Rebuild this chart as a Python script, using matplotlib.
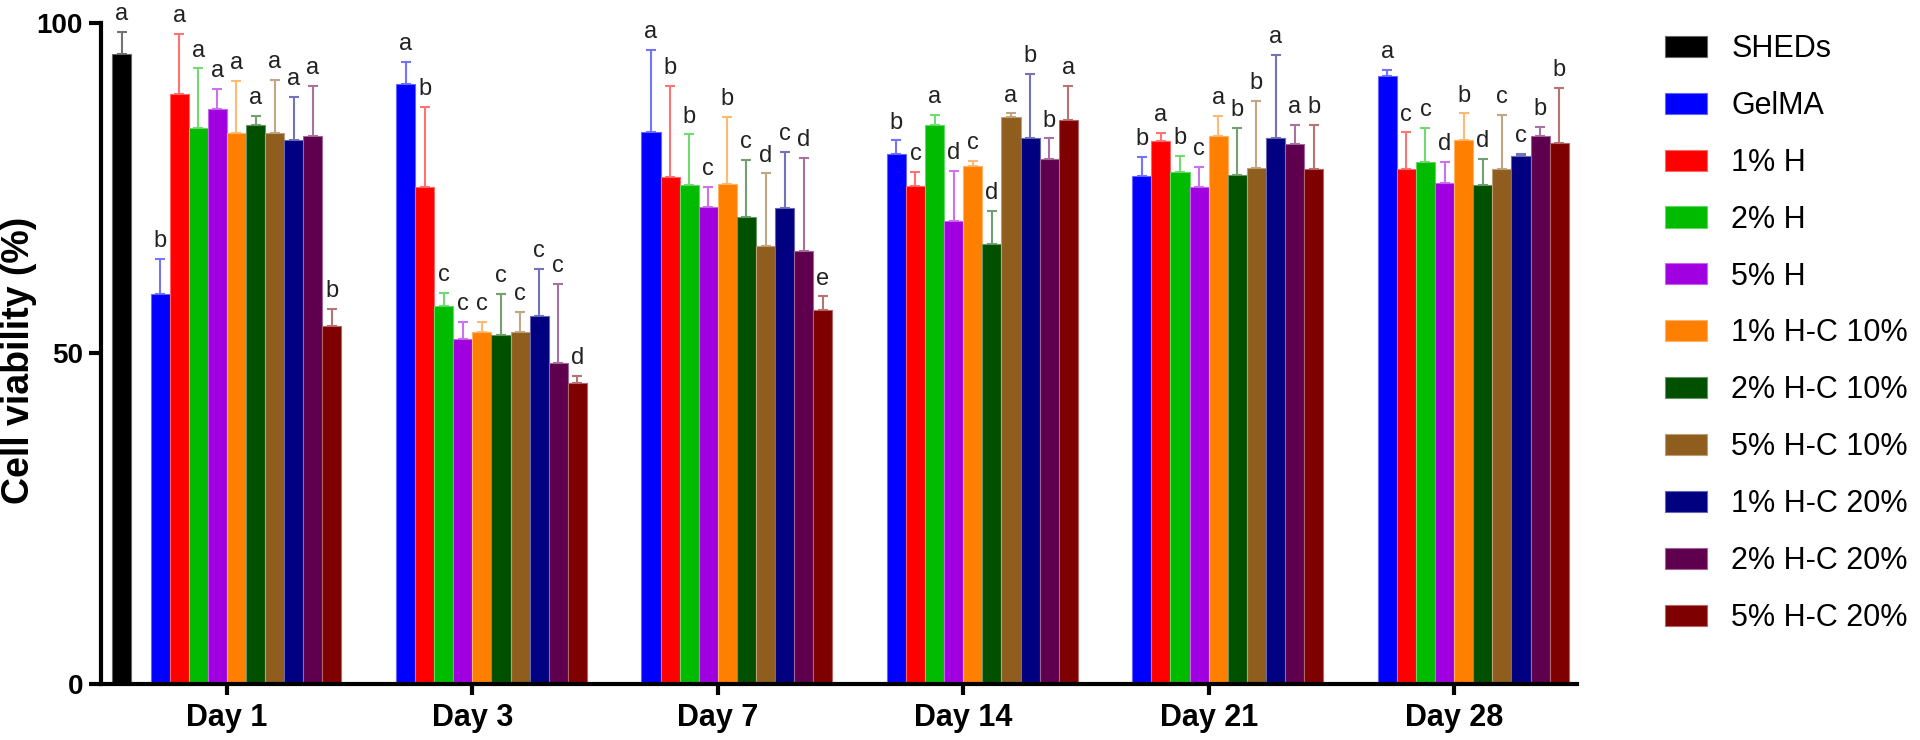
import numpy as np
import matplotlib
matplotlib.use("Agg")
import matplotlib.pyplot as plt
from matplotlib.colors import to_rgba
from matplotlib.patches import Patch

plt.rcParams['font.family'] = ['Liberation Sans', 'DejaVu Sans']

days = ['Day 1', 'Day 3', 'Day 7', 'Day 14', 'Day 21', 'Day 28']
groups = ['SHEDs', 'GelMA', '1% H', '2% H', '5% H', '1% H-C 10%', '2% H-C 10%',
          '5% H-C 10%', '1% H-C 20%', '2% H-C 20%', '5% H-C 20%']
colors = ['#000000', '#0000FF', '#FF0000', '#00BB00', '#A000E0', '#FF7F00',
          '#005000', '#8F5E1E', '#000080', '#5F004F', '#7F0000']

nan = np.nan
# mean cell viability (%) per group, one value per day
means = [
    [95.3, nan, nan, nan, nan, nan],
    [59.0, 90.8, 83.5, 80.1, 76.8, 92.0],
    [89.2, 75.1, 76.6, 75.3, 82.1, 77.9],
    [84.1, 57.1, 75.4, 84.5, 77.5, 79.0],
    [87.0, 52.2, 72.2, 70.0, 75.1, 75.8],
    [83.3, 53.2, 75.6, 78.4, 82.9, 82.3],
    [84.5, 52.7, 70.6, 66.5, 77.0, 75.4],
    [83.3, 53.2, 66.3, 85.7, 78.1, 77.9],
    [82.3, 55.7, 72.0, 82.5, 82.5, 79.9],
    [82.9, 48.6, 65.5, 79.4, 81.7, 82.9],
    [54.1, 45.5, 56.5, 85.3, 77.9, 81.8],
]
errors = [
    [3.3, nan, nan, nan, nan, nan],
    [5.3, 3.3, 12.4, 2.1, 2.9, 0.9],
    [9.1, 12.2, 13.8, 2.2, 1.2, 5.5],
    [9.0, 2.0, 7.7, 1.5, 2.4, 5.1],
    [3.0, 2.5, 3.0, 7.6, 3.1, 3.2],
    [7.9, 1.6, 10.1, 0.7, 3.0, 4.0],
    [1.4, 6.3, 8.7, 5.0, 7.1, 4.0],
    [8.0, 3.1, 10.9, 0.6, 10.1, 8.2],
    [6.5, 7.1, 8.5, 9.8, 12.6, 0.3],
    [7.6, 11.9, 14.0, 3.1, 2.8, 1.4],
    [2.6, 1.1, 2.1, 5.1, 6.7, 8.3],
]
letters = [
    ['a', '', '', '', '', ''],
    ['b', 'a', 'a', 'b', 'b', 'a'],
    ['a', 'b', 'b', 'c', 'a', 'c'],
    ['a', 'c', 'b', 'a', 'b', 'c'],
    ['a', 'c', 'c', 'd', 'c', 'd'],
    ['a', 'c', 'b', 'c', 'a', 'b'],
    ['a', 'c', 'c', 'd', 'b', 'd'],
    ['a', 'c', 'd', 'a', 'b', 'c'],
    ['a', 'c', 'c', 'b', 'a', 'c'],
    ['a', 'c', 'd', 'b', 'a', 'b'],
    ['b', 'd', 'e', 'a', 'b', 'b'],
]


def lighten(c, a):
    r, g, b, _ = to_rgba(c)
    return (1 - a * (1 - r), 1 - a * (1 - g), 1 - a * (1 - b))


fig = plt.figure(figsize=(19.2, 7.4), dpi=100)
ax = fig.add_axes([0.0526, 0.0757, 0.8214 - 0.0526, 0.9693 - 0.0757])

x = np.arange(len(days))
w = 0.0778
for i, name in enumerate(groups):
    slot = 0 if i == 0 else i + 1
    xs = x + (slot - 5.5) * w
    m = np.array(means[i])
    e = np.array(errors[i])
    ok = ~np.isnan(m)
    ax.bar(xs[ok], m[ok], w, color=colors[i], edgecolor=lighten(colors[i], 0.6),
           linewidth=0.8, zorder=2)
    ax.errorbar(xs[ok], m[ok], yerr=[np.zeros(ok.sum()), e[ok]], fmt='none',
                ecolor=lighten(colors[i], 0.55), elinewidth=1.5, capsize=3.5,
                capthick=1.5, zorder=1)
    for j in np.where(ok)[0]:
        ax.annotate(letters[i][j], (xs[j], m[j] + e[j]), xytext=(0, 8.5),
                    textcoords='offset points', ha='center', va='baseline',
                    fontsize=17, color='#222222', annotation_clip=False)

ax.set_xlim(-0.513, 5.501)
ax.set_ylim(0, 100)
ax.set_yticks([0, 50, 100])
ax.set_xticks(x)
ax.set_xticklabels(days)
for s in ['top', 'right']:
    ax.spines[s].set_visible(False)
for s in ['left', 'bottom']:
    ax.spines[s].set_linewidth(3)
ax.tick_params(axis='y', length=9, width=3, pad=4, labelsize=20)
ax.tick_params(axis='x', length=8, width=3, pad=6, labelsize=22)
for t in ax.get_xticklabels() + ax.get_yticklabels():
    t.set_fontweight('bold')
ax.set_ylabel('Cell viability (%)', fontsize=27, fontweight='bold')
ax.yaxis.set_label_coords(-0.0434, 0.49)

handles = [Patch(facecolor=c, edgecolor=lighten(c, 0.6), linewidth=0.8) for c in colors]
fig.legend(handles, groups, loc='upper left', bbox_to_anchor=(0.867, 0.954),
           frameon=False, fontsize=22, handlelength=1.4, handleheight=0.69,
           handletextpad=0.78, labelspacing=0.88, borderpad=0, borderaxespad=0)

fig.savefig('out.png', dpi=100)
